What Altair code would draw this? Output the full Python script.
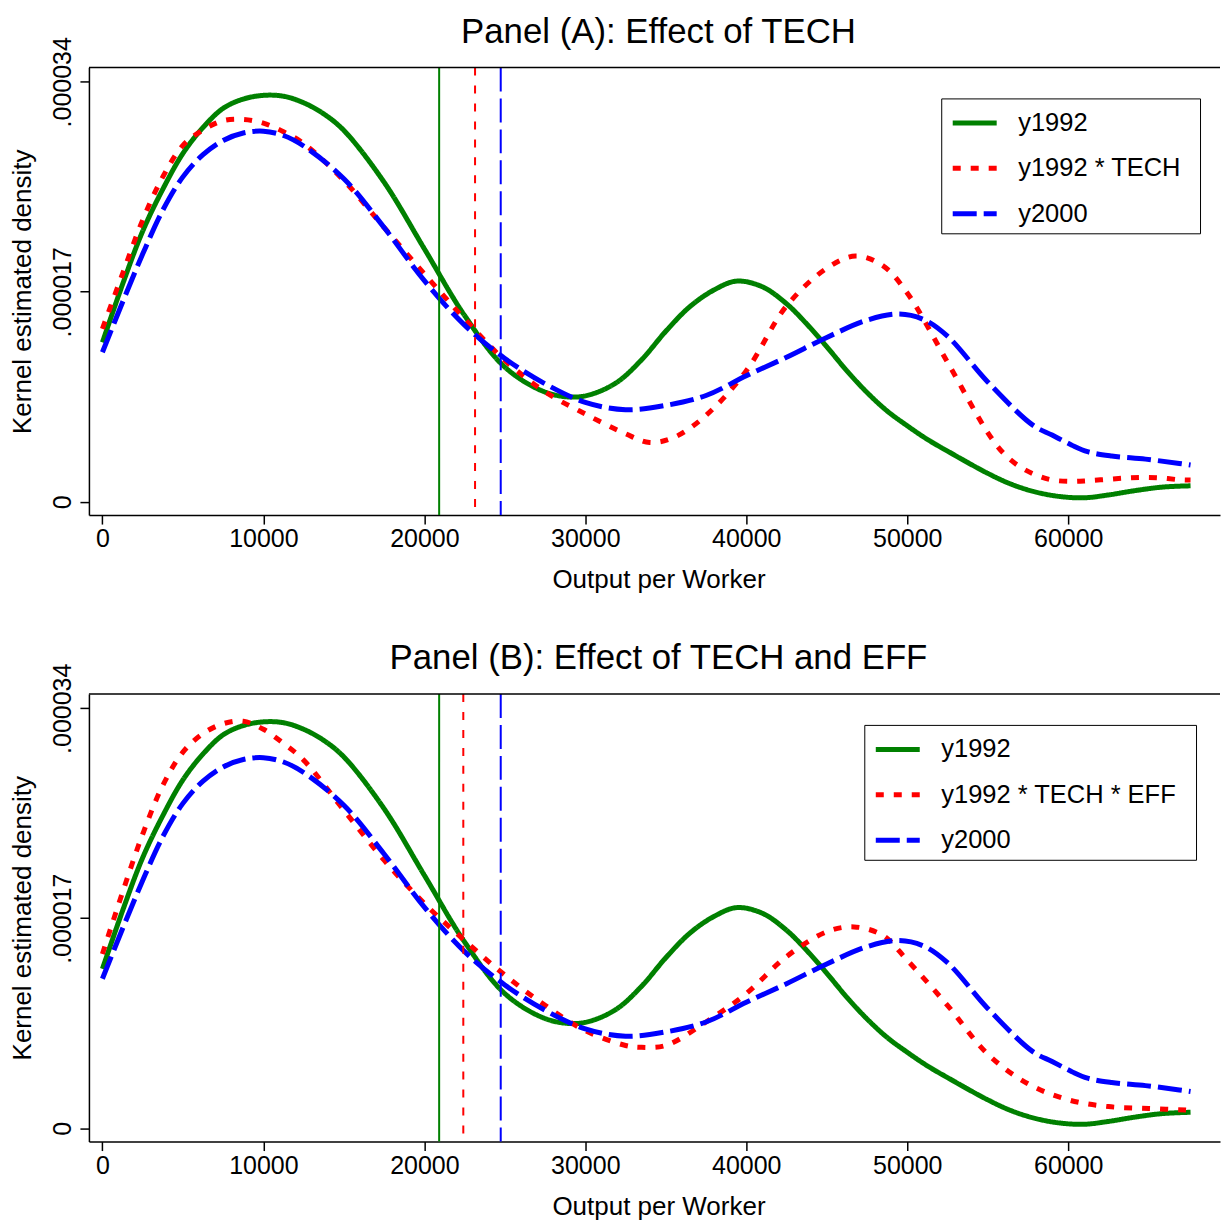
import altair as alt
import pandas as pd

FONT = "Liberation Sans"

# ---------------- data (density values in units of 1e-6) ----------------
X_TICKS = [0, 10000, 20000, 30000, 40000, 50000, 60000]
Y_TICKS = [0, 0.000017, 0.000034]

SERIES_A = ["y1992", "y1992 * TECH", "y2000"]
SERIES_B = ["y1992", "y1992 * TECH * EFF", "y2000"]
COLORS = ["#008000", "#ff0000", "#0000ff"]
DASHES = [[1, 0], [8, 10], [24, 7]]

# y1992
g_x = [0, 1250, 2500, 3750, 5000, 6250, 7500, 8750, 10000, 11250, 12500, 13750,
       15000, 17500, 20000, 22500, 25000, 27500, 29300, 30500, 32000, 33500, 35000,
       36500, 38000, 39400, 41000, 42500, 43750, 45000, 46250, 47500, 48750, 50000,
       51250, 52500, 55000, 56500, 58000, 59500, 61000, 62500, 64000, 65800, 67600]
g_y = [12.9, 17.6, 21.9, 25.3, 28.2, 30.3, 31.85, 32.6, 32.9, 32.83, 32.3, 31.4,
       30.06, 25.87, 20.48, 15.08, 10.9, 8.88, 8.47, 8.75, 9.7, 11.5, 13.8,
       15.8, 17.15, 17.86, 17.4, 16.03, 14.4, 12.55, 10.6, 8.85, 7.35, 6.15,
       5.05, 4.1, 2.3, 1.4, 0.78, 0.42, 0.32, 0.55, 0.87, 1.18, 1.29]

# y1992 * TECH
r_x = [0, 1250, 2500, 3750, 5000, 6250, 7500, 8750, 10000, 11250, 12500, 15000,
       17500, 20000, 22500, 25000, 27500, 30000, 32500, 34000, 35500, 37500, 40000,
       42500, 45000, 46800, 48500, 50000, 52500, 55000, 56000, 57000, 58000, 59000,
       60200, 61200, 62400, 63600, 64700, 65800, 66900, 67600]
r_y = [14.0, 18.45, 22.8, 26.3, 28.85, 30.1, 30.85, 30.95, 30.65, 29.95, 29.0, 26.0,
       22.2, 18.45, 14.8, 11.45, 8.9, 7.1, 5.5, 4.8, 5.2, 7.0, 10.6,
       15.85, 18.9, 19.9, 19.1, 16.9, 11.3, 5.6, 3.9, 2.83, 2.16, 1.76,
       1.65, 1.70, 1.81, 1.92, 1.97, 1.92, 1.78, 1.75]

# y2000
b_x = [0, 1250, 2500, 3750, 5000, 6250, 7500, 8750, 10000, 11250, 12500, 15000,
       17500, 20000, 22500, 25000, 27500, 30000, 32500, 35000, 37500, 40000, 42500,
       45000, 47500, 49500, 51000, 52500, 55000, 57800, 59000, 60200, 61200, 62700,
       64800, 66900, 67600]
b_y = [12.1, 16.15, 20.05, 23.6, 26.3, 28.1, 29.25, 29.85, 30.0, 29.65, 28.8, 26.15,
       22.2, 17.9, 14.3, 11.6, 9.55, 8.05, 7.45, 7.8, 8.6, 10.2, 11.7,
       13.3, 14.7, 15.2, 14.76, 13.4, 9.7, 6.2, 5.4, 4.6, 4.05, 3.7,
       3.45, 3.1, 2.97]

# y1992 * TECH * EFF
e_x = [0, 1250, 2500, 3750, 5000, 6250, 7500, 8750, 10000, 11250, 12500, 15000,
       17500, 20000, 22500, 25000, 27500, 30000, 32500, 33500, 35000, 37500, 40000,
       42500, 45000, 46700, 48500, 50000, 52500, 55000, 57500, 60000, 62500, 65000,
       67600]
e_y = [14.1, 19.1, 23.8, 27.75, 30.45, 31.95, 32.75, 32.95, 32.3, 31.15, 29.8, 25.75,
       21.7, 18.2, 15.2, 12.4, 9.96, 7.9, 6.7, 6.55, 6.7, 8.6, 10.9,
       13.9, 15.9, 16.3, 15.6, 13.6, 9.95, 6.0, 3.6, 2.3, 1.75, 1.6,
       1.45]

# mean lines (vertical)
VLINES_A = [20920, 23150, 24745]
VLINES_B = [20920, 22420, 24745]

PLOT_W, PLOT_H = 1132, 448
X_DOMAIN = [-838, 69430]
Y_DOMAIN = [-1.08e-6, 35.16e-6]


def make_panel(title, series, curves, vlines, legend_x):
    rows = []
    for s, (xs, ys) in zip(series, curves):
        for xv, yv in zip(xs, ys):
            rows.append({"series": s, "x": xv, "density": yv * 1e-6})
    df = pd.DataFrame(rows)
    vdf = pd.DataFrame({"series": series, "x": vlines})

    leg = alt.Legend(
        title="\u2800", titleOrient="bottom", titleFontSize=5, titlePadding=1,
        orient="none", legendX=legend_x, legendY=31,
        symbolType="stroke", symbolSize=1936, symbolStrokeWidth=5,
        labelFont=FONT, labelFontSize=25.5, labelColor="black", labelLimit=500,
        labelOffset=19, rowPadding=7.5, padding=0, symbolOffset=9,
        strokeColor="black", fillColor="white",
        labelExpr="datum.label + '\u2800'",
    )
    color = alt.Color("series:N", scale=alt.Scale(domain=series, range=COLORS), legend=leg)
    dash = alt.StrokeDash("series:N", scale=alt.Scale(domain=series, range=DASHES), legend=leg)

    xenc = alt.X(
        "x:Q",
        scale=alt.Scale(domain=X_DOMAIN, nice=False, zero=False),
        axis=alt.Axis(values=X_TICKS, format="d", title="Output per Worker",
                      labelPadding=2.5, titlePadding=15, titleX=PLOT_W / 2 + 4),
    )
    yenc = alt.Y(
        "density:Q",
        scale=alt.Scale(domain=Y_DOMAIN, nice=False, zero=False),
        axis=alt.Axis(values=Y_TICKS, title="Kernel estimated density",
                      labelExpr="datum.value == 0 ? '0' : replace(format(datum.value, '.6f'), '0.', '.')",
                      labelAngle=270, labelAlign="center", labelBaseline="bottom",
                      labelPadding=4, titlePadding=15),
    )

    lines = alt.Chart(df).mark_line(strokeWidth=5, interpolate="catmull-rom").encode(
        x=xenc, y=yenc, color=color, strokeDash=dash
    )
    rules = alt.Chart(vdf).mark_rule(strokeWidth=2).encode(
        x=alt.X("x:Q"), color=color, strokeDash=dash
    )
    border = alt.Chart(pd.DataFrame({"a": [0]})).mark_rule(color="black", strokeWidth=1.5).encode(
        x=alt.value(0), x2=alt.value(PLOT_W), y=alt.value(0)
    )
    return alt.layer(lines, rules, border).properties(
        width=PLOT_W, height=PLOT_H,
        title=alt.TitleParams(title, font=FONT, fontSize=34.8, fontWeight="normal",
                              color="black", anchor="middle", baseline="alphabetic",
                              offset=-41, dx=4),
    )


panel_a = make_panel("Panel (A): Effect of TECH", SERIES_A,
                     [(g_x, g_y), (r_x, r_y), (b_x, b_y)], VLINES_A, 853)
panel_b = make_panel("Panel (B): Effect of TECH and EFF", SERIES_B,
                     [(g_x, g_y), (e_x, e_y), (b_x, b_y)], VLINES_B, 776)

chart = (
    alt.vconcat(panel_a, panel_b, spacing=48)
    .resolve_scale(color="independent", strokeDash="independent")
    .resolve_legend(color="independent", strokeDash="independent")
    .properties(padding={"top": 14, "left": 10, "right": 0, "bottom": 0}, background="white")
    .configure_view(stroke=None)
    .configure_axis(
        labelFont=FONT, titleFont=FONT, labelFontSize=25, titleFontSize=26,
        labelColor="black", titleColor="black", titleFontWeight="normal",
        domainColor="black", domainWidth=1.5, tickColor="black", tickWidth=1.5,
        tickSize=9, grid=False,
    )
)

chart.save("out.html", embed_options={"renderer": "svg", "actions": False})
